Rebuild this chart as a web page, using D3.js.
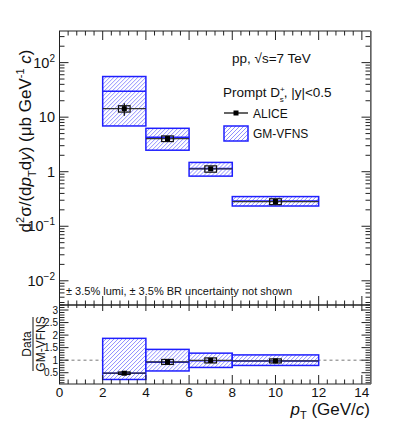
<!DOCTYPE html>
<html><head><meta charset="utf-8">
<script src="https://cdn.jsdelivr.net/npm/d3@7"></script>
<style>body{margin:0;background:#fff}svg{font-family:"Liberation Sans",Arial,sans-serif}</style>
</head><body><svg id="c" width="399" height="437"></svg>
<script>
// ---- data ----
const binLow = [2, 4, 6, 8];
const binHigh = [4, 6, 8, 12];
const binCenter = [3, 5, 7, 10];
const aliceVal = [14.3, 4.05, 1.13, 0.284];
const aliceStat = [3.7, 0.35, 0.07, 0.02];
const aliceSys = [1.9, 0.48, 0.15, 0.035];
const gmCentral = [30, 4.28, 1.15, 0.29];
const gmLow = [6.9, 2.48, 0.83, 0.235];
const gmHigh = [55.6, 6.25, 1.48, 0.35];
const ratioVal = [0.48, 0.93, 0.99, 0.97];
const ratioStat = [0.03, 0.06, 0.04, 0.03];
const ratioSys = [0.05, 0.1, 0.1, 0.08];
const ratioCentral = [0.48, 0.92, 0.98, 0.97];
const ratioLow = [0.23, 0.57, 0.71, 0.79];
const ratioHigh = [1.87, 1.43, 1.28, 1.21];
const xTicks = [0, 2, 4, 6, 8, 10, 12, 14];
const yTopTicks = [0.01, 0.1, 1, 10, 100];
const yTopLabels = [["10","−2"], ["10","−1"], ["1",""], ["10",""], ["10","2"]];
const yRatioTicks = [0.5, 1, 1.5, 2, 2.5, 3];
const yRatioLabels = ["0.5", "1", "1.5", "2", "2.5", "3"];

const svg = d3.select("#c");
const L = 59.5, R = 370.5, T = 31, M = 305, B = 384;
const x = d3.scaleLinear().domain([0, 14.4]).range([L, R]);
const yT = d3.scaleLog().domain([0.0036, 380]).range([M, T]);
const yR = d3.scaleLinear().domain([0.05, 3.2]).range([B, M]);
const blue = "#1f1fff";
const defs = svg.append("defs");
let clipId = 0;

function hatchBox(parent, x0, y0, w, h) {
  const id = "hc" + (clipId++);
  defs.append("clipPath").attr("id", id).append("rect").attr("x", x0).attr("y", y0).attr("width", w).attr("height", h);
  const g = parent.append("g").attr("clip-path", `url(#${id})`);
  g.append("rect").attr("x", x0).attr("y", y0).attr("width", w).attr("height", h).attr("fill", "#fff");
  const step = 4;
  let d = "";
  for (let s = x0 - h - step; s < x0 + w + step; s += step) {
    d += `M${s},${y0 + h} L${s + h},${y0} `;
  }
  g.append("path").attr("d", d).attr("fill", "none").attr("stroke", "#7373ff").attr("stroke-width", 0.8);
  parent.append("rect").attr("x", x0).attr("y", y0).attr("width", w).attr("height", h)
    .attr("fill", "none").attr("stroke", blue).attr("stroke-width", 1.5);
}

function drawPanel(y, lo, hi, cen, val, stat, sys, refLine) {
  const g = svg.append("g");
  if (refLine) {
    g.append("line").attr("x1", L).attr("x2", R).attr("y1", y(1)).attr("y2", y(1))
      .attr("stroke", "#777").attr("stroke-dasharray", "3,3").attr("stroke-width", 1);
  }
  binLow.forEach((b, i) => {
    hatchBox(g, x(b), y(hi[i]), x(binHigh[i]) - x(b), y(lo[i]) - y(hi[i]));
    g.append("line").attr("x1", x(b)).attr("x2", x(binHigh[i]))
      .attr("y1", y(cen[i])).attr("y2", y(cen[i])).attr("stroke", blue).attr("stroke-width", 1.5);
  });
  binLow.forEach((b, i) => {
    const cx = x(binCenter[i]), cy = y(val[i]);
    g.append("line").attr("x1", x(b)).attr("x2", x(binHigh[i])).attr("y1", cy).attr("y2", cy)
      .attr("stroke", "#333").attr("stroke-width", 1.3);
    g.append("line").attr("x1", cx).attr("x2", cx).attr("y1", y(val[i] + stat[i])).attr("y2", y(val[i] - stat[i]))
      .attr("stroke", "#111").attr("stroke-width", 1.3);
    g.append("rect").attr("x", x(binCenter[i] - 0.27)).attr("width", x(binCenter[i] + 0.27) - x(binCenter[i] - 0.27))
      .attr("y", y(val[i] + sys[i])).attr("height", y(val[i] - sys[i]) - y(val[i] + sys[i]))
      .attr("fill", "none").attr("stroke", "#111").attr("stroke-width", 1.2);
    g.append("rect").attr("x", cx - 2.5).attr("y", cy - 2.5).attr("width", 5).attr("height", 5).attr("fill", "#000");
  });
}
drawPanel(yT, gmLow, gmHigh, gmCentral, aliceVal, aliceStat, aliceSys, false);
drawPanel(yR, ratioLow, ratioHigh, ratioCentral, ratioVal, ratioStat, ratioSys, true);

// ---- frames & ticks ----
const ax = svg.append("g").attr("stroke", "#222").attr("stroke-width", 1);
ax.append("rect").attr("x", L).attr("y", T).attr("width", R - L).attr("height", M - T).attr("fill", "none");
ax.append("rect").attr("x", L).attr("y", M).attr("width", R - L).attr("height", B - M).attr("fill", "none");
const xMinor = d3.range(0, 14.41, 0.4);
function xt(yy, dir, len) {
  xMinor.forEach(v => {
    const major = Math.abs(v / 2 - Math.round(v / 2)) < 1e-6;
    const l = major ? len : len / 2;
    ax.append("line").attr("x1", x(v)).attr("x2", x(v)).attr("y1", yy).attr("y2", yy + dir * l);
  });
}
xt(T, 1, 9); xt(M, -1, 9); xt(M, 1, 6); xt(B, -1, 9);
d3.range(-3, 3).forEach(d => {
  for (let k = 1; k <= 9; k++) {
    const v = k * Math.pow(10, d);
    if (v < 0.0036 || v > 380) continue;
    const l = k === 1 ? 9 : 5;
    ax.append("line").attr("x1", L).attr("x2", L + l).attr("y1", yT(v)).attr("y2", yT(v));
    ax.append("line").attr("x1", R).attr("x2", R - l).attr("y1", yT(v)).attr("y2", yT(v));
  }
});
d3.range(0.1, 3.2001, 0.1).forEach(v => {
  const major = Math.abs(v * 2 - Math.round(v * 2)) < 1e-6;
  const l = major ? 9 : 5;
  ax.append("line").attr("x1", L).attr("x2", L + l).attr("y1", yR(v)).attr("y2", yR(v));
  ax.append("line").attr("x1", R).attr("x2", R - l).attr("y1", yR(v)).attr("y2", yR(v));
});
svg.append("line").attr("x1", R + 0.5).attr("x2", R + 0.5).attr("y1", T).attr("y2", B).attr("stroke", "#777").attr("stroke-width", 1.5);

// ---- labels ----
const tx = svg.append("g").attr("fill", "#111");
xTicks.forEach(v => tx.append("text").attr("x", x(v)).attr("y", 397).attr("text-anchor", "middle")
  .attr("font-size", 13.5).text(v));
yTopTicks.forEach((v, i) => {
  const t = tx.append("text").attr("x", 55).attr("y", yT(v) + 5).attr("text-anchor", "end").attr("font-size", 14.5);
  t.append("tspan").text(yTopLabels[i][0]);
  if (yTopLabels[i][1]) t.append("tspan").attr("dy", -6).attr("font-size", 10).text(yTopLabels[i][1]);
});
yRatioTicks.forEach((v, i) => tx.append("text").attr("x", 58).attr("y", yR(v) + 3.5).attr("text-anchor", "end")
  .attr("font-size", 10).text(yRatioLabels[i]));

const yt = tx.append("text").attr("transform", "translate(31,141) rotate(-90)").attr("text-anchor", "middle").attr("font-size", 17);
yt.append("tspan").text("d");
yt.append("tspan").attr("dy", -7).attr("font-size", 11).text("2");
yt.append("tspan").attr("dy", 7).text("σ/(d");
yt.append("tspan").attr("font-style", "italic").text("p");
yt.append("tspan").attr("dy", 5).attr("font-size", 11).text("T");
yt.append("tspan").attr("dy", -5).text("d");
yt.append("tspan").attr("font-style", "italic").text("y");
yt.append("tspan").text(") (μb GeV");
yt.append("tspan").attr("dy", -7).attr("font-size", 11).text("-1");
yt.append("tspan").attr("dy", 7).text(" ");
yt.append("tspan").attr("font-style", "italic").text("c");
yt.append("tspan").text(")");

const rg = tx.append("g").attr("transform", "translate(33,344) rotate(-90)");
rg.append("text").attr("x", 0).attr("y", -2).attr("text-anchor", "middle").attr("font-size", 12).text("Data");
rg.append("line").attr("x1", -27).attr("x2", 27).attr("y1", 0).attr("y2", 0).attr("stroke", "#111").attr("stroke-width", 1);
rg.append("text").attr("x", 0).attr("y", 11.5).attr("text-anchor", "middle").attr("font-size", 12).text("GM-VFNS");

const xtl = tx.append("text").attr("x", 370).attr("y", 415).attr("text-anchor", "end").attr("font-size", 17);
xtl.append("tspan").attr("font-style", "italic").text("p");
xtl.append("tspan").attr("dy", 4).attr("font-size", 11).text("T");
xtl.append("tspan").attr("dy", -4).text(" (GeV/");
xtl.append("tspan").attr("font-style", "italic").text("c");
xtl.append("tspan").text(")");

tx.append("text").attr("x", 232).attr("y", 63).attr("font-size", 13.5).text("pp, √s=7 TeV");
const pr = tx.append("text").attr("x", 223).attr("y", 97).attr("font-size", 13.5);
pr.append("tspan").text("Prompt D");
pr.append("tspan").attr("dy", -5).attr("font-size", 8).text("+");
pr.append("tspan").attr("dx", -5).attr("dy", 10).attr("font-size", 8).text("s");
pr.append("tspan").attr("dy", -5).text(", |y|<0.5");
svg.append("line").attr("x1", 224).attr("x2", 248).attr("y1", 113).attr("y2", 113).attr("stroke", "#111").attr("stroke-width", 1.3);
svg.append("rect").attr("x", 233.5).attr("y", 110.5).attr("width", 5).attr("height", 5).attr("fill", "#000");
tx.append("text").attr("x", 253).attr("y", 118).attr("font-size", 12).text("ALICE");
hatchBox(svg, 224, 126, 24, 15);
tx.append("text").attr("x", 253).attr("y", 138).attr("font-size", 12).text("GM-VFNS");
tx.append("text").attr("x", 66).attr("y", 295).attr("font-size", 11).text("± 3.5% lumi, ± 3.5% BR uncertainty not shown");
</script></body></html>
